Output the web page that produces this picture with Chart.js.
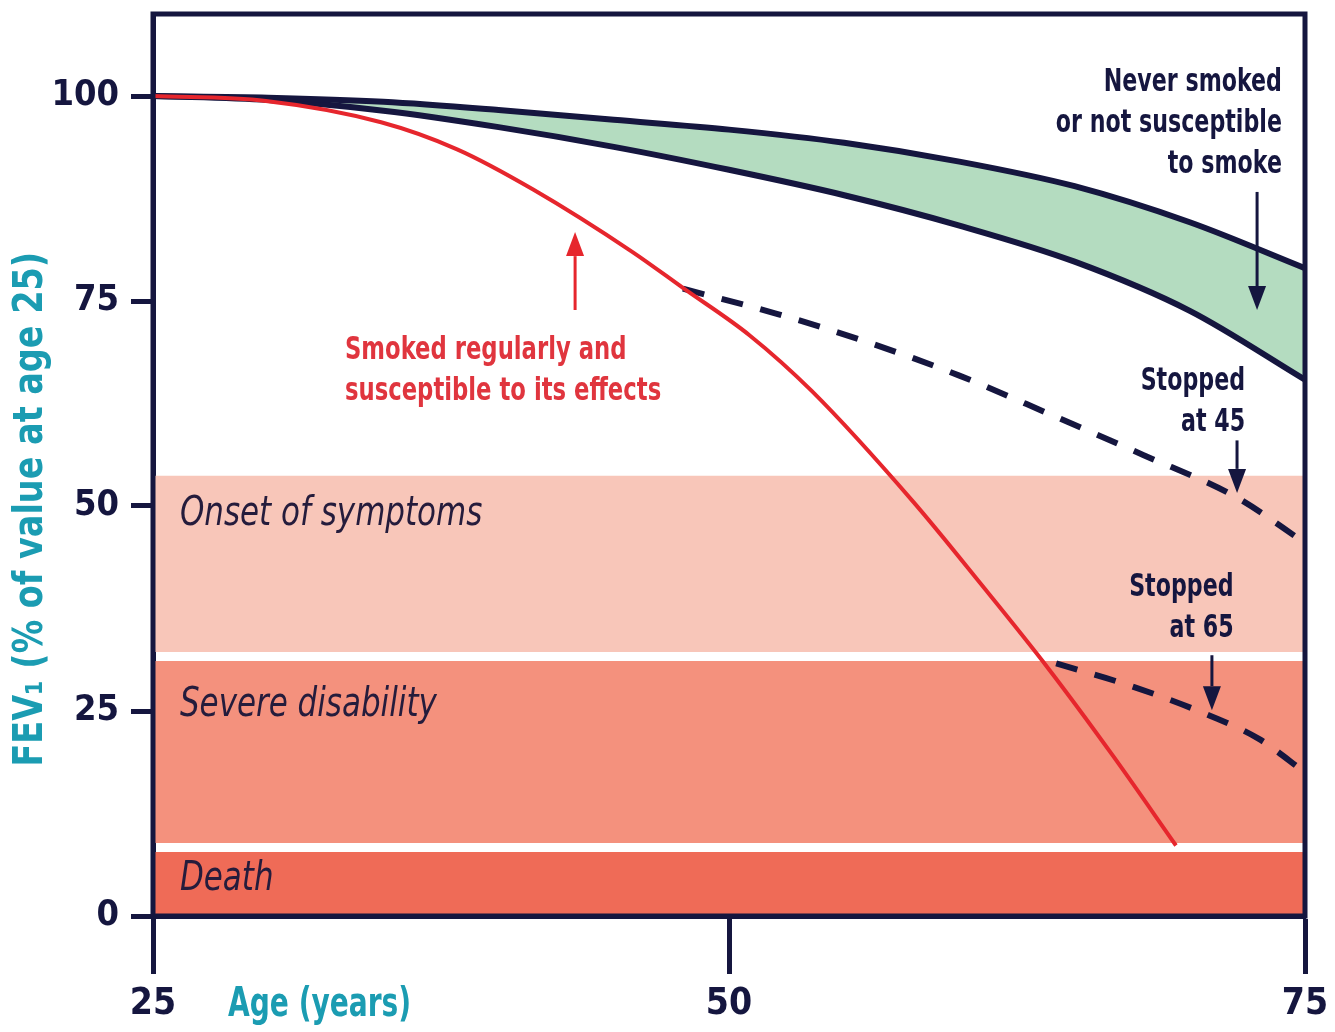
<!DOCTYPE html>
<html><head><meta charset="utf-8">
<script src="https://cdn.jsdelivr.net/npm/chart.js@4/dist/chart.umd.min.js"></script>
<style>html,body{margin:0;padding:0;background:#fff;}#wrap{width:1335px;height:1032px;position:relative;}</style>
</head><body><div id="wrap"><canvas id="c"></canvas></div>
<script>
// ---- data ----
const neverAges = [25, 30, 35, 40, 45, 50, 55, 60, 65, 70, 75];
const neverUpper = [100, 99.8, 99.3, 98.3, 97.1, 95.9, 94.3, 92.0, 89.0, 84.6, 79.0];
const neverLower = [100, 99.5, 98.2, 96.2, 93.8, 91.0, 87.9, 84.2, 79.8, 73.8, 65.4];
const smokerAges = [25, 29.9, 34.9, 38.2, 41.5, 45.8, 48.0, 50.9, 53.6, 58.0, 60.9, 63.8, 66.7, 69.4];
const smokerVals = [100, 99.4, 96.8, 93.5, 88.6, 81.0, 76.6, 70.8, 64.0, 50.5, 40.6, 30.4, 19.4, 8.6];
const stop45Ages = [48, 52, 56, 60, 64, 68, 72, 75];
const stop45Vals = [76.5, 73.5, 70.0, 65.9, 61.1, 56.2, 51.1, 45.5];
const stop65Ages = [64.2, 67.5, 70.9, 73, 75];
const stop65Vals = [30.8, 28.0, 24.4, 21.6, 17.5];
const bandNames = ['Onset of symptoms', 'Severe disability', 'Death'];
const bandLow = [32.2, 8.9, 0];
const bandHigh = [53.7, 31.1, 7.8];
const xTicks = [25, 50, 75];
const yTicks = [0, 25, 50, 75, 100];

// ---- styles ----
const NAVY = '#15163f';
const RED = '#e6262d';
const RED_TEXT = '#e0353e';
const TEAL = '#1b9cb2';
const GREEN = '#b4dcc0';
const BAND_COLORS = ['#f8c6b9', '#f4917d', '#ef6b57'];
const FONT = "'Liberation Sans Narrow', 'DejaVu Sans Condensed', 'Arial Narrow', sans-serif";

const pts = (xs, ys) => xs.map((a, i) => ({x: a, y: ys[i]}));

const datasets = [];
bandNames.forEach((n, i) => {
  datasets.push({
    label: n,
    data: [{x: 25, y: bandHigh[i]}, {x: 75, y: bandHigh[i]}],
    borderWidth: 0, pointRadius: 0, backgroundColor: BAND_COLORS[i],
    fill: {value: bandLow[i]}, order: 10
  });
});
datasets.push({label: 'Never smoked (upper)', data: pts(neverAges, neverUpper), borderColor: NAVY, borderWidth: 6,
  pointRadius: 0, fill: '+1', backgroundColor: GREEN, cubicInterpolationMode: 'monotone', order: 5});
datasets.push({label: 'Never smoked (lower)', data: pts(neverAges, neverLower), borderColor: NAVY, borderWidth: 6,
  pointRadius: 0, fill: false, cubicInterpolationMode: 'monotone', order: 5});
datasets.push({label: 'Stopped at 45', data: pts(stop45Ages, stop45Vals), borderColor: NAVY, borderWidth: 6,
  borderDash: [22, 18], pointRadius: 0, fill: false, cubicInterpolationMode: 'monotone', order: 3});
datasets.push({label: 'Stopped at 65', data: pts(stop65Ages, stop65Vals), borderColor: NAVY, borderWidth: 6,
  borderDash: [22, 18], pointRadius: 0, fill: false, cubicInterpolationMode: 'monotone', order: 3});
datasets.push({label: 'Smoked regularly', data: pts(smokerAges, smokerVals), borderColor: RED, borderWidth: 4,
  pointRadius: 0, fill: false, cubicInterpolationMode: 'monotone', order: 2});

// ---- annotations (data units) ----
const arrows = [
  {age: 43.32, from: 73.9, to: 83.4, color: RED, w: 3},
  {age: 72.92, from: 88.3, to: 73.9, color: NAVY, w: 3},
  {age: 72.05, from: 58.0, to: 51.6, color: NAVY, w: 3},
  {age: 70.96, from: 31.8, to: 25.1, color: NAVY, w: 3}
];
const notes = [
  {lines: ['Never smoked', 'or not susceptible', 'to smoke'], age: 74.0, val: 101.6, align: 'right', color: NAVY, size: 32, sx: 0.77},
  {lines: ['Stopped', 'at 45'], age: 72.4, val: 65.2, align: 'right', color: NAVY, size: 32, sx: 0.77},
  {lines: ['Stopped', 'at 65'], age: 71.9, val: 40.0, align: 'right', color: NAVY, size: 32, sx: 0.77},
  {lines: ['Smoked regularly and', 'susceptible to its effects'], age: 33.33, val: 69.0, align: 'left', color: RED_TEXT, size: 32, sx: 0.79}
];
const bandLabelPos = [48.9, 25.6, 4.4];

function txt(ctx, s, x, y, sx) {
  ctx.save(); ctx.translate(x, y); ctx.scale(sx, 1); ctx.fillText(s, 0, 0); ctx.restore();
}

const overlay = {
  id: 'overlay',
  afterDatasetsDraw(chart) {
    const {ctx, chartArea: a, scales: {x, y}} = chart;
    ctx.save();
    ctx.fillStyle = '#251c3c';
    ctx.font = 'italic 40px ' + FONT;
    ctx.textBaseline = 'middle';
    ctx.textAlign = 'left';
    bandNames.forEach((n, i) => txt(ctx, n, x.getPixelForValue(26.17), y.getPixelForValue(bandLabelPos[i]), 0.86));
    notes.forEach(nt => {
      ctx.font = 'bold ' + nt.size + 'px ' + FONT;
      ctx.fillStyle = nt.color;
      ctx.textAlign = nt.align;
      const px = x.getPixelForValue(nt.age), py = y.getPixelForValue(nt.val);
      nt.lines.forEach((l, k) => txt(ctx, l, px, py + k * 41, nt.sx));
    });
    arrows.forEach(ar => {
      const px = x.getPixelForValue(ar.age), y1 = y.getPixelForValue(ar.from), y2 = y.getPixelForValue(ar.to);
      const dir = y2 > y1 ? 1 : -1, head = 24, hw = 9;
      ctx.strokeStyle = ar.color; ctx.fillStyle = ar.color; ctx.lineWidth = ar.w;
      ctx.beginPath(); ctx.moveTo(px, y1); ctx.lineTo(px, y2 - dir * head); ctx.stroke();
      ctx.beginPath(); ctx.moveTo(px, y2); ctx.lineTo(px - hw, y2 - dir * head); ctx.lineTo(px + hw, y2 - dir * head); ctx.closePath(); ctx.fill();
    });
    ctx.strokeStyle = NAVY; ctx.lineWidth = 5;
    ctx.strokeRect(a.left, a.top, a.right - a.left, a.bottom - a.top);
    ctx.fillStyle = TEAL;
    ctx.font = 'bold 40px ' + FONT;
    ctx.textAlign = 'left'; ctx.textBaseline = 'middle';
    txt(ctx, 'Age (years)', x.getPixelForValue(25) + 75, x.bottom - 26, 0.78);
    ctx.translate(32, y.getPixelForValue(49.6));
    ctx.rotate(-Math.PI / 2);
    ctx.textAlign = 'center';
    txt(ctx, 'FEV\u2081 (% of value at age 25)', 0, 0, 0.93);
    ctx.restore();
  }
};

new Chart(document.getElementById('c'), {
  type: 'line',
  data: {datasets},
  options: {
    responsive: true, maintainAspectRatio: false, animation: false,
    layout: {padding: {top: 14, right: 30, left: 0, bottom: 0}},
    plugins: {legend: {display: false}, tooltip: {enabled: false}, filler: {drawTime: 'beforeDatasetsDraw'}},
    scales: {
      x: {
        type: 'linear', min: 25, max: 75,
        afterFit: s => { s.height = 116; s.paddingLeft = 0; s.paddingRight = 0; },
        afterBuildTicks: s => { s.ticks = xTicks.map(v => ({value: v})); },
        grid: {drawOnChartArea: false, tickLength: 58, tickWidth: 5, tickColor: NAVY},
        border: {display: true, color: NAVY, width: 5},
        ticks: {color: NAVY, padding: 8, font: {family: FONT, size: 37, weight: 'bold'}, maxRotation: 0}
      },
      y: {
        type: 'linear', min: 0, max: 110,
        afterFit: s => { s.width = 153; s.paddingTop = 0; s.paddingBottom = 0; },
        afterBuildTicks: s => { s.ticks = yTicks.map(v => ({value: v})); },
        grid: {drawOnChartArea: false, tickLength: 22, tickWidth: 5, tickColor: NAVY},
        border: {display: true, color: NAVY, width: 5},
        ticks: {color: NAVY, padding: 12, font: {family: FONT, size: 36, weight: 'bold'}}
      }
    }
  },
  plugins: [overlay]
});
</script></body></html>
